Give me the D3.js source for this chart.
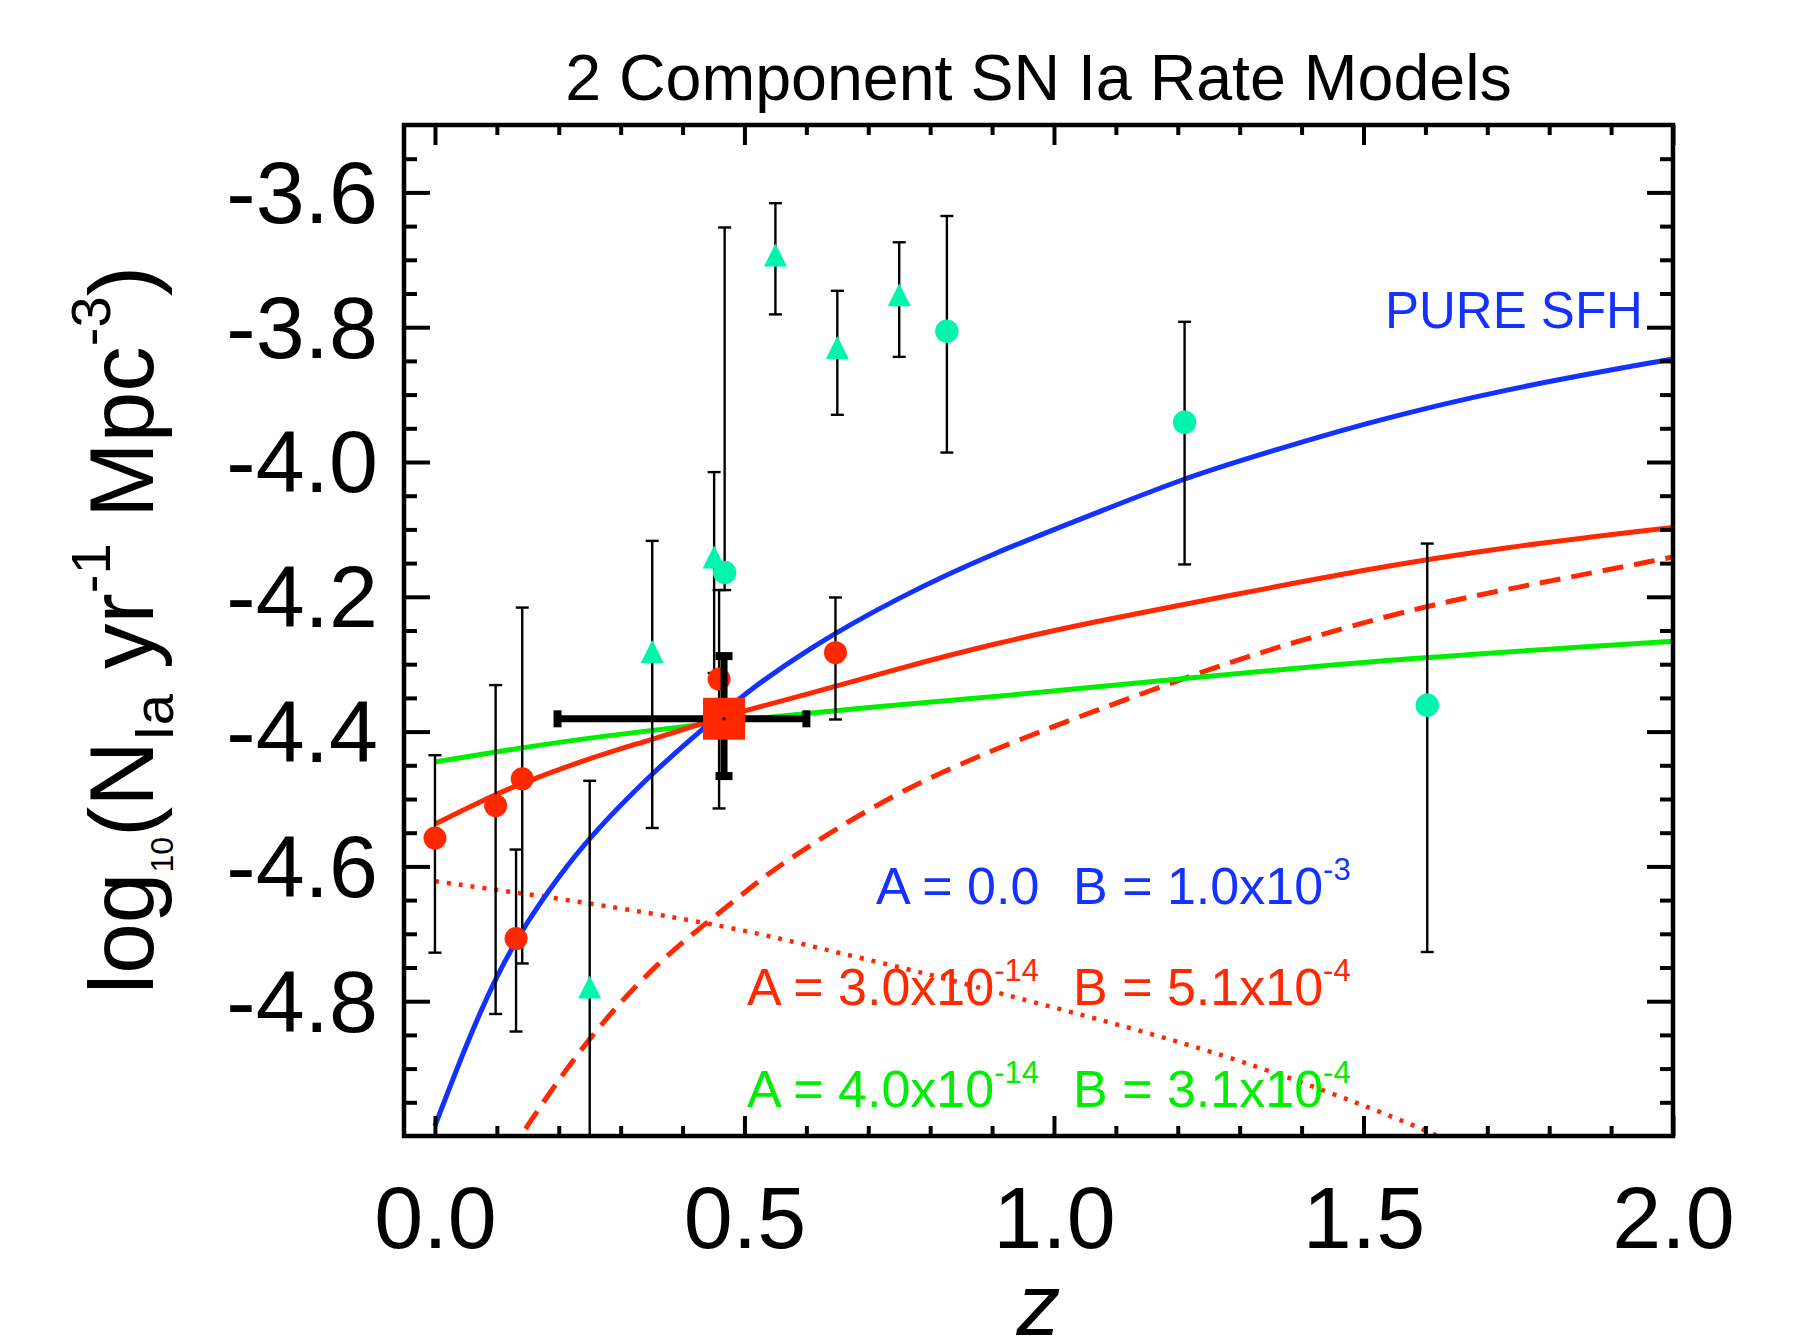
<!DOCTYPE html>
<html>
<head>
<meta charset="utf-8">
<script src="https://cdn.jsdelivr.net/npm/d3@7"></script>
<style>
  body { margin: 0; background: #fff; }
  svg { display: block; }
</style>
</head>
<body>
<svg id="chart" width="1806" height="1337"></svg>
<script>
// ---- values ----

// axis ranges and tick labels
const zRange = [-0.05, 2.0];
const rateRange = [-5.0, -3.5];
const xTicks = [0.0, 0.5, 1.0, 1.5, 2.0];
const yTicks = [-3.6, -3.8, -4.0, -4.2, -4.4, -4.6, -4.8];

// model curves, [z, log10 rate]
const pureSFH = [[0.0, -4.985], [0.05, -4.865], [0.1, -4.76], [0.15, -4.68], [0.2, -4.615],
  [0.25, -4.556], [0.35, -4.462], [0.43, -4.398], [0.5, -4.344], [0.6, -4.278], [0.75, -4.200],
  [0.9, -4.136], [1.07, -4.075], [1.21, -4.024], [1.34, -3.987], [1.5, -3.943], [1.72, -3.893],
  [2.0, -3.847]];
const redTotal = [[0.0, -4.537], [0.1, -4.492], [0.14, -4.477], [0.25, -4.439], [0.35, -4.412],
  [0.43, -4.388], [0.5, -4.369], [0.6, -4.345], [0.75, -4.306], [0.91, -4.268], [1.07, -4.236],
  [1.29, -4.197], [1.5, -4.160], [1.72, -4.127], [2.0, -4.097]];
const redDelayed = [[0.12, -5.03], [0.14, -4.996], [0.25, -4.850], [0.36, -4.742], [0.44, -4.683],
  [0.525, -4.620], [0.57, -4.590], [0.71, -4.508], [0.88, -4.432], [1.22, -4.317], [1.35, -4.277],
  [1.6, -4.212], [1.8, -4.177], [2.0, -4.141]];
const redPrompt = [[0.0, -4.622], [0.25, -4.654], [0.44, -4.684], [0.55, -4.705], [0.65, -4.728],
  [0.8, -4.760], [0.91, -4.788], [1.22, -4.862], [1.45, -4.936], [1.62, -4.998], [1.66, -5.02]];
const greenTotal = [[0.0, -4.445], [0.16, -4.421], [0.27, -4.407], [0.43, -4.389], [0.6, -4.373],
  [0.75, -4.360], [0.91, -4.348], [1.2, -4.322], [1.58, -4.290], [2.0, -4.266]];

// measurements, [z, value, lower, upper]
const redCircles = [
  [0.000, -4.558, -4.728, -4.435],
  [0.098, -4.510, -4.819, -4.331],
  [0.131, -4.707, -4.845, -4.575],
  [0.141, -4.470, -4.744, -4.216],
  [0.459, -4.322, -4.514, -4.190],
  [0.647, -4.283, -4.382, -4.201]
];
const tealTriangles = [
  [0.250, -4.779, -5.200, -4.473],
  [0.351, -4.281, -4.543, -4.117],
  [0.451, -4.141, -4.313, -4.015],
  [0.550, -3.693, -3.781, -3.616],
  [0.650, -3.830, -3.930, -3.746],
  [0.750, -3.752, -3.844, -3.674]
];
const tealCircles = [
  [0.468, -4.164, -4.190, -3.652],
  [0.827, -3.806, -3.986, -3.635],
  [1.211, -3.941, -4.152, -3.792],
  [1.603, -4.361, -4.727, -4.121]
];
// this work: [z, value, zLow, zHigh, lower, upper]
const thisWork = [0.467, -4.381, 0.198, 0.600, -4.466, -4.288];

const title = "2 Component SN Ia Rate Models";
const modelLabels = [
  { a: ["A = 0.0", ""], b: ["B = 1.0x10", "-3"] },
  { a: ["A = 3.0x10", "-14"], b: ["B = 5.1x10", "-4"] },
  { a: ["A = 4.0x10", "-14"], b: ["B = 3.1x10", "-4"] }
];

// ---- drawing ----
const FONT = '"Liberation Sans", Arial, Helvetica, sans-serif';
const BLUE = '#1432ff', RED = '#ff2800', GREEN = '#00ee00', TEAL = '#00f5ad';
const plot = { left: 404, right: 1673, top: 125, bottom: 1136 };

const svg = d3.select('#chart');

const x = d3.scaleLinear().domain(zRange).range([plot.left, plot.right]);
const y = d3.scaleLinear().domain(rateRange).range([plot.bottom, plot.top]);

svg.append('clipPath').attr('id', 'clip')
  .append('rect')
  .attr('x', plot.left).attr('y', plot.top)
  .attr('width', plot.right - plot.left).attr('height', plot.bottom - plot.top);

const inner = svg.append('g').attr('clip-path', 'url(#clip)');

/** Model curves */
const line = d3.line()
  .x(d => x(d[0]))
  .y(d => y(d[1]))
  .curve(d3.curveBasis);

function curve(data, color, width, dash) {
  inner.append('path')
    .datum(data)
    .attr('d', line)
    .attr('fill', 'none')
    .attr('stroke', color)
    .attr('stroke-width', width)
    .attr('stroke-dasharray', dash);
}
curve(redPrompt, RED, 4.5, '4,8');
curve(redDelayed, RED, 5, '21,11');
curve(greenTotal, GREEN, 5, null);
curve(redTotal, RED, 5, null);
curve(pureSFH, BLUE, 5, null);

/** Thin error bars */
const capHalf = 6.5;
const allPoints = redCircles.concat(tealTriangles, tealCircles);
const bars = inner.append('g').attr('stroke', '#000').attr('stroke-width', 2.4);
bars.selectAll('line.err')
  .data(allPoints).enter()
  .append('line')
  .attr('x1', d => x(d[0])).attr('x2', d => x(d[0]))
  .attr('y1', d => y(d[2])).attr('y2', d => y(d[3]));
bars.selectAll('line.capLo')
  .data(allPoints).enter()
  .append('line')
  .attr('x1', d => x(d[0]) - capHalf).attr('x2', d => x(d[0]) + capHalf)
  .attr('y1', d => y(d[2])).attr('y2', d => y(d[2]));
bars.selectAll('line.capHi')
  .data(allPoints).enter()
  .append('line')
  .attr('x1', d => x(d[0]) - capHalf).attr('x2', d => x(d[0]) + capHalf)
  .attr('y1', d => y(d[3])).attr('y2', d => y(d[3]));

/** Markers */
inner.selectAll('circle.red')
  .data(redCircles).enter()
  .append('circle')
  .attr('cx', d => x(d[0])).attr('cy', d => y(d[1]))
  .attr('r', 11.5).attr('fill', RED);

// IDL style triangle, centred on its bounding box
const triangleIDL = {
  draw(ctx, size) {
    const r = Math.sqrt(size) / 2;
    ctx.moveTo(0, -r);
    ctx.lineTo(r, r);
    ctx.lineTo(-r, r);
    ctx.closePath();
  }
};
inner.selectAll('path.tri')
  .data(tealTriangles).enter()
  .append('path')
  .attr('d', d3.symbol(triangleIDL, 23 * 23))
  .attr('transform', d => `translate(${x(d[0])},${y(d[1])})`)
  .attr('fill', TEAL);

inner.selectAll('circle.teal')
  .data(tealCircles).enter()
  .append('circle')
  .attr('cx', d => x(d[0])).attr('cy', d => y(d[1]))
  .attr('r', 11.7).attr('fill', TEAL);

/** This work: thick cross with a red square */
const tw = inner.append('g');
const cx = x(thisWork[0]), cy = y(thisWork[1]);
tw.append('line')
  .attr('x1', x(thisWork[2])).attr('x2', x(thisWork[3]))
  .attr('y1', cy).attr('y2', cy)
  .attr('stroke', '#000').attr('stroke-width', 7);
tw.append('line')
  .attr('x1', cx).attr('x2', cx)
  .attr('y1', y(thisWork[4])).attr('y2', y(thisWork[5]))
  .attr('stroke', '#000').attr('stroke-width', 7);
[thisWork[2], thisWork[3]].forEach(z => {
  tw.append('rect').attr('x', x(z) - 4).attr('y', cy - 8.5).attr('width', 8).attr('height', 17);
});
[thisWork[4], thisWork[5]].forEach(v => {
  tw.append('rect').attr('x', cx - 8.5).attr('y', y(v) - 4).attr('width', 17).attr('height', 8);
});
tw.append('path')
  .attr('d', d3.symbol(d3.symbolSquare, 42 * 42))
  .attr('transform', `translate(${cx},${cy})`)
  .attr('fill', RED);
tw.append('rect').attr('x', cx - 1.5).attr('y', cy - 1.5).attr('width', 3).attr('height', 3);

/** Axes: ticks on all four sides, pointing inward */
const xMinor = d3.range(1, 20).filter(i => i % 5).map(i => i / 10);
const yMinor = d3.range(1, 30).filter(i => i % 4).map(i => rateRange[0] + i * 0.05);

function ticks(axis, tx, ty, labels) {
  const g = svg.append('g')
    .attr('transform', `translate(${tx},${ty})`)
    .call(axis);
  g.attr('font-size', 88).attr('font-family', FONT);
  g.select('.domain').remove();
  g.selectAll('.tick line').attr('stroke-width', 4);
  if (!labels) g.selectAll('.tick text').remove();
  return g;
}

const bottom = ticks(d3.axisBottom(x).tickValues(xTicks).tickSize(-20).tickFormat(d => d.toFixed(1)),
  0, plot.bottom, true);
bottom.selectAll('.tick text').attr('y', 112).attr('dy', null);
ticks(d3.axisBottom(x).tickValues(xMinor).tickSize(-10).tickFormat(''), 0, plot.bottom, false);
ticks(d3.axisTop(x).tickValues(xTicks).tickSize(-20).tickFormat(''), 0, plot.top, false);
ticks(d3.axisTop(x).tickValues(xMinor).tickSize(-10).tickFormat(''), 0, plot.top, false);

const left = ticks(d3.axisLeft(y).tickValues(yTicks).tickSize(-26).tickPadding(26).tickFormat(d => d.toFixed(1)),
  plot.left, 0, true);
left.selectAll('.tick text').attr('dy', '0.34em');
ticks(d3.axisLeft(y).tickValues(yMinor).tickSize(-13).tickFormat(''), plot.left, 0, false);
ticks(d3.axisRight(y).tickValues(yTicks).tickSize(-26).tickFormat(''), plot.right, 0, false);
ticks(d3.axisRight(y).tickValues(yMinor).tickSize(-13).tickFormat(''), plot.right, 0, false);

svg.append('rect')
  .attr('x', plot.left).attr('y', plot.top)
  .attr('width', plot.right - plot.left).attr('height', plot.bottom - plot.top)
  .attr('fill', 'none').attr('stroke', '#000').attr('stroke-width', 4.5);

/** Titles */
svg.append('text')
  .attr('x', (plot.left + plot.right) / 2).attr('y', 100)
  .attr('text-anchor', 'middle')
  .attr('font-family', FONT).attr('font-size', 64.5)
  .text(title);

// axis title right at the bottom edge
svg.append('text')
  .attr('x', (plot.left + plot.right) / 2).attr('y', 1335)
  .attr('text-anchor', 'middle')
  .attr('font-family', FONT).attr('font-size', 88).attr('font-style', 'italic')
  .text('z');

const yl = svg.append('text')
  .attr('transform', 'translate(153,630) rotate(-90)')
  .attr('text-anchor', 'middle')
  .attr('font-family', FONT).attr('font-size', 91);
yl.append('tspan').text('log');
yl.append('tspan').attr('font-size', 32).attr('dy', 20).text('10');
yl.append('tspan').attr('dy', -20).text('(N');
yl.append('tspan').attr('font-size', 56).attr('dy', 20).text('Ia');
yl.append('tspan').attr('dy', -20).text(' yr');
yl.append('tspan').attr('font-size', 56).attr('dy', -43).text('-1');
yl.append('tspan').attr('dy', 43).text(' Mpc');
yl.append('tspan').attr('font-size', 56).attr('dy', -43).text('-3');
yl.append('tspan').attr('dy', 43).text(')');

/** Model annotations */
svg.append('text')
  .attr('x', 1385).attr('y', 328)
  .attr('font-family', FONT).attr('font-size', 51)
  .attr('fill', BLUE)
  .text('PURE SFH');

const labelColors = [BLUE, RED, GREEN];
const labelBase = [904, 1005, 1107];
const labelStartA = [876, 747, 747];

function label(parts, lx, ly, color) {
  const t = svg.append('text')
    .attr('x', lx).attr('y', ly)
    .attr('font-family', FONT).attr('font-size', 52)
    .attr('fill', color);
  t.append('tspan').text(parts[0]);
  if (parts[1]) t.append('tspan').attr('font-size', 31).attr('dy', -24).text(parts[1]);
}
modelLabels.forEach((m, i) => {
  label(m.a, labelStartA[i], labelBase[i], labelColors[i]);
  label(m.b, 1073, labelBase[i], labelColors[i]);
});
</script>
</body>
</html>
